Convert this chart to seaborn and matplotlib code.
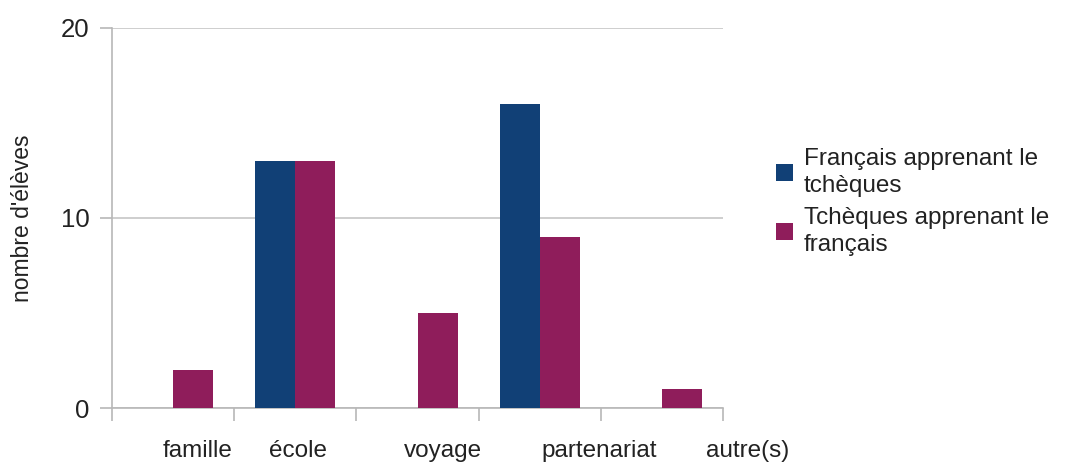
import matplotlib
matplotlib.use("Agg")
import matplotlib.pyplot as plt
import seaborn as sns
import pandas as pd
import numpy as np

categories = ["famille", "école", "voyage", "partenariat", "autre(s)"]
series_names = ["Français apprenant le\ntchèques", "Tchèques apprenant le\nfrançais"]
francais = [0, 13, 0, 16, 0]
tcheques = [2, 13, 5, 9, 1]
y_ticks = [0, 10, 20]

sns.set_theme(style="white")
plt.rcParams["font.family"] = ["Liberation Sans", "DejaVu Sans"]

df = pd.DataFrame({
    "categorie": categories * 2,
    "serie": [series_names[0]] * len(categories) + [series_names[1]] * len(categories),
    "valeur": francais + tcheques,
})

colors = ["#114076", "#8f1d5b"]
text_color = "#222222"
line_color = "#b8b8b8"

fig = plt.figure(figsize=(10.76, 4.63), dpi=100)
ax = fig.add_axes([112 / 1076, 1 - 408 / 463, (723 - 112) / 1076, (408 - 28) / 463])

sns.barplot(data=df, x="categorie", y="valeur", hue="serie", order=categories,
            hue_order=series_names, palette=colors, width=0.655, saturation=1,
            errorbar=None, linewidth=0, ax=ax, zorder=3)

ax.set_xlim(-0.5, len(categories) - 0.5)
ax.set_ylim(0, 20)
ax.set_yticks(y_ticks)
ax.set_yticklabels([str(v) for v in y_ticks], fontsize=18.5, color=text_color)
ax.yaxis.grid(True, color="#c6c6c6", linewidth=1.2, zorder=0)
ax.set_axisbelow(True)

# tick marks on category boundaries, labels drawn separately below
ax.set_xticks(np.arange(-0.5, len(categories), 1.0))
ax.set_xticklabels([])
label_shift = [0.2, 0.02, 0.21, 0.49, 0.7]
for i, (cat, s) in enumerate(zip(categories, label_shift)):
    ax.text(i + s, -0.085, cat, transform=ax.get_xaxis_transform(),
            ha="center", va="top", fontsize=17.5, color=text_color)

ax.tick_params(axis="both", which="both", bottom=True, left=True, length=9,
               width=1.2, color=line_color, direction="out", pad=6)
ax.tick_params(axis="y", pad=7)

for side in ["top", "right"]:
    ax.spines[side].set_visible(False)
for side in ["left", "bottom"]:
    ax.spines[side].set_color(line_color)
    ax.spines[side].set_linewidth(1.2)

ax.set_xlabel("")
ax.set_ylabel("nombre d'élèves", fontsize=16.5, color=text_color)
ax.yaxis.set_label_coords((34 - 112) / 611, 0.5)

handles, labels = ax.get_legend_handles_labels()
if ax.get_legend():
    ax.get_legend().remove()
leg = fig.legend(handles, labels, loc="upper left", bbox_to_anchor=(766 / 1076, 1 - 138 / 463),
                 frameon=False, fontsize=17.5, handlelength=0.7, handleheight=0.7,
                 handletextpad=0.45, labelspacing=0.4, borderaxespad=0)
for t in leg.get_texts():
    t.set_color(text_color)
    t.set_linespacing(1.3)

fig.savefig("out.png", dpi=100)
